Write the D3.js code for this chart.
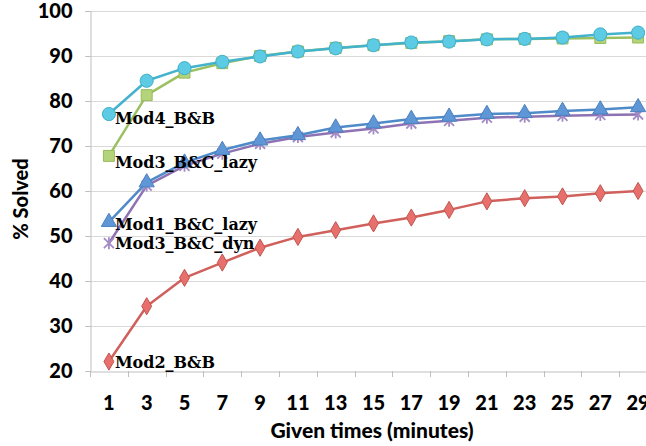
<!DOCTYPE html>
<html><head><meta charset="utf-8">
<script src="https://cdn.jsdelivr.net/npm/d3@7"></script>
<style>body{margin:0;background:#fff}svg{display:block}</style>
</head><body>
<svg id="chart" width="646" height="446"></svg>
<script>
// ---- data ----
const times = ["1","3","5","7","9","11","13","15","17","19","21","23","25","27","29"];
const yTickValues = [20,30,40,50,60,70,80,90,100];
const mod2BB      = [22.1,34.4,40.7,44.1,47.4,49.8,51.3,52.8,54.1,55.8,57.7,58.4,58.8,59.5,60.0];
const mod3BCdyn   = [48.4,61.2,65.6,68.3,70.5,72.0,73.0,73.9,75.0,75.6,76.3,76.5,76.7,76.9,77.0];
const mod1BClazy  = [53.1,61.9,66.3,69.1,71.2,72.4,74.1,75.0,76.0,76.5,77.1,77.3,77.8,78.1,78.6];
const mod3BClazy  = [67.8,81.3,86.3,88.4,90.0,91.0,91.8,92.4,92.9,93.3,93.7,93.8,93.9,94.0,94.1];
const mod4BB      = [77.1,84.5,87.3,88.7,89.9,91.0,91.7,92.4,93.0,93.2,93.7,93.8,94.1,94.8,95.2];
const seriesNames = ["Mod2_B&B","Mod3_B&C_dyn","Mod1_B&C_lazy","Mod3_B&C_lazy","Mod4_B&B"];
const yTitle = "% Solved";
const xTitle = "Given times (minutes)";

// ---- styles ----
const series = [
  {name: seriesNames[0], values: mod2BB,     line:"#d0605c", fill:"#e8706c", stroke:"#c25450", shape:"diamond", dy:6},
  {name: seriesNames[1], values: mod3BCdyn,  line:"#8e72b3", fill:"none",    stroke:"#a38bc6", shape:"star",    dy:6},
  {name: seriesNames[2], values: mod1BClazy, line:"#4f8ac9", fill:"#5f97d6", stroke:"#4a80c0", shape:"triangle",dy:8},
  {name: seriesNames[3], values: mod3BClazy, line:"#9bc060", fill:"#b3d47a", stroke:"#98bb5c", shape:"square",  dy:12},
  {name: seriesNames[4], values: mod4BB,     line:"#43b3cd", fill:"#5ccbe3", stroke:"#3fb0ca", shape:"circle",  dy:10}
];

const sansFont = "Lato, 'Open Sans', sans-serif";
const svg = d3.select("#chart");
const padL = 90, padT = 11, baseY = 371;
const x = d3.scaleBand().domain(times).range([padL, padL + 15*37.8]);
const y = d3.scaleLinear().domain([20,100]).range([baseY, padT]);

// gridlines
svg.append("g").selectAll("line").data(yTickValues.slice(1)).join("line")
  .attr("x1", padL - 5).attr("x2", 646)
  .attr("y1", d => y(d)+0.5).attr("y2", d => y(d)+0.5)
  .attr("stroke", "#d9d9d9").attr("stroke-width", 1);

// y axis
const yAxis = svg.append("g").attr("transform", `translate(${padL+0.5},0)`)
  .call(d3.axisLeft(y).tickValues(yTickValues).tickSize(5).tickPadding(13));
yAxis.select(".domain").attr("stroke", "#bfbfbf");
yAxis.selectAll(".tick line").attr("stroke", "#bfbfbf");
yAxis.selectAll("text").attr("font-family", sansFont).attr("font-weight", 900)
  .attr("font-size", 20).attr("fill", "#000");

// x axis
const xAxis = svg.append("g").attr("transform", `translate(0,${baseY+0.5})`)
  .call(d3.axisBottom(x).tickSize(0).tickPadding(24));
xAxis.select(".domain").attr("stroke", "#bfbfbf");
xAxis.selectAll("text").attr("font-family", sansFont).attr("font-weight", 900)
  .attr("font-size", 20).attr("fill", "#000");
// boundary ticks between categories
const bounds = times.map(t => x(t)).concat([x(times[times.length-1]) + x.bandwidth()]);
svg.append("g").selectAll("line").data(bounds).join("line")
  .attr("x1", d => Math.round(d)+0.5).attr("x2", d => Math.round(d)+0.5)
  .attr("y1", baseY).attr("y2", baseY + 6)
  .attr("stroke", "#bfbfbf");

// titles
svg.append("text").attr("x", 372).attr("y", 438).attr("text-anchor", "middle")
  .attr("font-family", sansFont).attr("font-weight", 900).attr("font-size", 21)
  .text(xTitle);
svg.append("text").attr("transform", "translate(28,199) rotate(-90)").attr("text-anchor", "middle")
  .attr("font-family", sansFont).attr("font-weight", 900).attr("font-size", 20)
  .text(yTitle);

const cx = t => x(t) + x.bandwidth()/2;
const lineGen = d3.line().x((d,i) => cx(times[i])).y(d => y(d));

function shapePath(s) {
  if (s === "circle") return d3.symbol(d3.symbolCircle, 135)();
  if (s === "square") return d3.symbol(d3.symbolSquare, 120)();
  if (s === "triangle") return d3.symbol(d3.symbolTriangle, 100)();
  if (s === "diamond") return d3.symbol(d3.symbolDiamond, 85)();
  return "M-5,-5L5,5M-5,5L5,-5M0,-6L0,6";
}

series.forEach(s => {
  const g = svg.append("g");
  g.append("path").datum(s.values).attr("d", lineGen)
    .attr("fill", "none").attr("stroke", s.line).attr("stroke-width", 2.5)
    .attr("stroke-linejoin", "round");
  g.selectAll("path.m").data(s.values).join("path").attr("class", "m")
    .attr("d", shapePath(s.shape))
    .attr("transform", (d,i) => `translate(${cx(times[i])},${y(d)})`)
    .attr("fill", s.fill).attr("stroke", s.stroke)
    .attr("stroke-width", s.shape === "star" ? 1.8 : 1);
});

// series labels at first point
series.forEach(s => {
  svg.append("text").attr("x", cx(times[0]) + 6).attr("y", y(s.values[0]) + s.dy)
    .attr("font-family", "'DejaVu Serif', serif").attr("font-weight", "bold").attr("font-size", 16)
    .attr("fill", "#000").text(s.name);
});
</script>
</body></html>
